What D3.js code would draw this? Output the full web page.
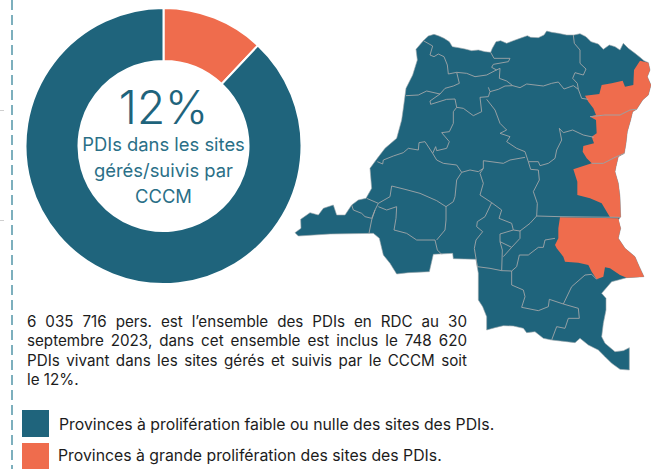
<!DOCTYPE html>
<html><head><meta charset="utf-8">
<script src="https://cdn.jsdelivr.net/npm/d3@7/dist/d3.min.js"></script>
<style>html,body{margin:0;padding:0;background:#fff}svg{display:block}text{font-family:Inter,"Noto Sans",sans-serif}</style>
</head><body><svg id="c" width="651" height="469"></svg>
<script>
const shareLabels=["Sites gérés/suivis par CCCM","Autres PDIs"];
const shareValues=[12,88];
const centerBig="12%";
const centerLines=["PDIs dans les sites","gérés/suivis par","CCCM"];
const bodyLines=["6 035 716 pers. est l’ensemble des PDIs en RDC au 30","septembre 2023, dans cet ensemble est inclus le 748 620","PDIs vivant dans les sites gérés et suivis par le CCCM soit","le 12%."];
const legendLabels=["Provinces à prolifération faible ou nulle des sites des PDIs.","Provinces à grande prolifération des sites des PDIs."];
// Map geometry, in map grid units
const countryOutline=[[400,62],[415,48],[432,43],[447,48],[462,55],[478,65],[487,80],[505,83],[525,87],[545,92],[565,90],[585,95],[602,97],[607,85],[618,65],[632,62],[650,70],[670,62],[690,55],[712,47],[722,52],[745,53],[762,45],[770,33],[785,37],[805,40],[830,45],[852,45],[870,41],[888,50],[903,65],[925,72],[940,88],[958,75],[975,80],[990,90],[1000,70],[1015,85],[1035,100],[1050,112],[1062,122],[1075,128],[1080,150],[1072,170],[1083,195],[1075,225],[1058,240],[1040,268],[1028,275],[1022,300],[1012,335],[1008,370],[1003,400],[985,410],[978,440],[975,455],[985,490],[990,530],[992,590],[985,600],[992,625],[985,655],[1005,685],[1035,710],[1048,740],[1062,770],[1010,773],[985,780],[965,785],[935,820],[948,835],[948,870],[940,910],[935,950],[945,970],[975,995],[1000,992],[1018,983],[1018,1050],[990,1048],[965,1030],[945,1010],[925,990],[895,975],[870,955],[855,968],[830,965],[785,960],[760,955],[735,935],[710,938],[700,925],[670,918],[640,917],[615,923],[590,930],[590,890],[578,860],[565,840],[565,760],[558,718],[490,716],[488,700],[430,703],[418,755],[355,758],[320,762],[300,730],[280,705],[268,655],[250,640],[120,642],[25,648],[15,638],[33,625],[32,598],[60,578],[85,585],[100,565],[130,555],[140,585],[165,585],[185,555],[205,540],[228,535],[245,505],[240,445],[262,415],[285,385],[320,355],[335,300],[340,265],[348,205],[368,165],[382,120],[378,88]];
const highProvinces=[
[[1050,122],[1075,128],[1080,150],[1072,170],[1083,195],[1075,225],[1058,240],[1040,268],[1020,270],[990,285],[945,285],[900,290],[918,285],[910,265],[895,245],[885,227],[928,222],[935,195],[965,190],[998,182],[1005,200],[1030,195],[1032,150]],
[[900,290],[945,285],[990,285],[1020,270],[1040,268],[1028,275],[1022,300],[1012,335],[1008,370],[1003,400],[975,412],[940,430],[905,430],[890,415],[878,395],[880,378],[912,370],[905,350],[920,340],[918,300]],
[[905,430],[940,430],[975,412],[1003,400],[985,410],[978,440],[975,455],[985,490],[990,530],[992,592],[960,592],[935,550],[900,535],[862,525],[862,485],[850,448]],
[[810,592],[985,595],[992,625],[985,655],[1005,685],[1035,710],[1048,740],[1062,770],[1010,773],[990,765],[960,745],[945,742],[940,770],[920,778],[905,755],[895,735],[865,728],[825,725],[820,710],[800,685],[795,675],[805,655],[805,625]]
];
const provinceBorders=[
[[400,62],[428,78],[420,105],[432,110],[445,102],[462,110],[472,135],[475,162],[500,157],[530,160],[555,170],[590,165],[615,152],[630,145],[628,175],[650,183],[668,197]],
[[595,202],[600,215],[625,208],[645,198],[668,197],[690,203],[710,192],[735,195],[760,198],[785,190],[805,186],[822,207],[850,197],[865,208],[875,235],[895,238]],
[[602,97],[612,115],[660,115],[655,125],[610,133],[605,142],[620,150]],
[[850,45],[853,70],[870,90],[870,130],[888,147],[880,165],[855,158],[848,175],[862,190],[865,208]],
[[500,157],[508,190],[490,198],[465,205],[450,222],[420,243],[422,253],[470,238],[495,237],[500,262],[520,265],[550,287],[575,275],[570,232],[595,230],[600,215]],
[[348,227],[385,225],[410,213],[450,222]],
[[500,262],[490,275],[490,310],[478,335],[455,338],[478,365],[470,385],[440,392],[437,380],[428,400],[405,365],[387,368],[385,390],[355,385],[340,398],[310,408],[280,420],[278,432],[262,425]],
[[590,238],[615,270],[630,310],[650,330],[630,340],[660,350],[650,365],[680,385],[705,395],[715,425],[722,448],[745,450],[748,480],[730,515],[742,550],[740,588],[810,590],[990,592]],
[[428,400],[440,420],[460,430],[500,435],[515,457],[540,450],[565,455],[580,445],[580,422],[640,430],[660,420],[705,412]],
[[715,425],[745,425],[750,437],[775,430],[795,415],[800,390],[815,360],[808,325],[820,338],[848,330],[880,345],[912,352]],
[[515,457],[500,480],[495,530],[490,545],[468,560],[440,542],[390,520],[345,508],[305,498],[300,530],[265,550],[230,535]],
[[265,550],[255,570],[245,600],[237,640]],
[[185,555],[190,570],[215,580],[225,590],[245,595],[255,570]],
[[265,560],[290,570],[320,560],[318,595],[312,630],[350,640],[380,660],[435,660],[442,690],[455,703]],
[[468,560],[468,600],[465,630],[440,660]],
[[580,445],[570,460],[580,490],[570,525],[605,548],[635,570],[627,595],[665,610],[670,630],[630,642],[630,665],[665,682],[690,655],[690,633],[720,610],[740,588]],
[[670,630],[690,633]],
[[605,548],[585,590],[562,605],[560,620],[578,635],[558,660],[553,685],[562,740],[600,745],[635,752],[665,753],[680,740],[688,705],[715,705],[745,682],[760,682],[765,660],[795,655]],
[[630,665],[637,690],[635,752]],
[[665,682],[640,710]],
[[665,753],[665,795],[700,810],[705,830],[695,862],[745,872],[775,860],[778,838],[820,852],[865,865],[868,895],[835,895],[825,925],[800,920],[785,960]],
[[820,852],[845,800],[885,765],[905,763],[920,778]],
[[900,290],[945,285],[990,285],[1020,270],[1040,268]],
[[905,430],[940,430],[975,412],[1003,400]]
];
const blue="#1f647c",orange="#ef6c4d",textBlue="#2a6f87",ink="#1c1c1c";

const svg=d3.select("#c");
// page decorations
svg.append("line").attr("x1",12).attr("x2",12).attr("y1",0).attr("y2",469)
  .attr("stroke","#5d9cad").attr("stroke-width",1.6).attr("stroke-dasharray","10 5");
svg.selectAll("line.t").data([110.5,220.5]).join("line").attr("class","t")
  .attr("x1",0).attr("x2",4).attr("y1",d=>d).attr("y2",d=>d).attr("stroke","#cfcfcf");

// donut
const cx=163.5,cy=146,R=138,r=85;
const pie=d3.pie().sort(null).value(d=>d);
const arc=d3.arc().innerRadius(r).outerRadius(R);
const g=svg.append("g").attr("transform",`translate(${cx},${cy})`);
const colors=d3.scaleOrdinal().domain(shareLabels).range([orange,blue]);
g.selectAll("path").data(pie(shareValues)).join("path")
  .attr("d",arc).attr("fill",(d,i)=>colors(shareLabels[i]))
  .attr("stroke","#fff").attr("stroke-width",2);
g.append("text").attr("text-anchor","middle").attr("x",0).attr("y",-22)
  .attr("font-size",46).attr("font-weight",300).attr("fill",blue).text(centerBig);
g.selectAll("text.l").data(centerLines).join("text").attr("class","l")
  .attr("text-anchor","middle").attr("x",0).attr("y",(d,i)=>5+i*26)
  .attr("font-size",18.4).attr("font-weight",400).attr("fill",textBlue).text(d=>d);

// map
const mx=d3.scaleLinear().domain([0,1083]).range([290,651]);
const my=d3.scaleLinear().domain([0,1350]).range([20,470]);
const closed=d3.line().x(d=>mx(d[0])).y(d=>my(d[1])).curve(d3.curveLinearClosed);
const open=d3.line().x(d=>mx(d[0])).y(d=>my(d[1]));
const m=svg.append("g");
m.append("path").attr("d",closed(countryOutline)).attr("fill",blue).attr("stroke","#9aa6ab").attr("stroke-width",.6);
m.selectAll("path.h").data(highProvinces).join("path").attr("class","h")
  .attr("d",closed).attr("fill",orange).attr("stroke","none");
m.selectAll("path.b").data(provinceBorders).join("path").attr("class","b")
  .attr("d",open).attr("fill","none").attr("stroke","#a2a6a8").attr("stroke-width",.9).attr("stroke-linejoin","round");

// paragraph, justified
const bodyY=[327,346,365.5,384.5];
const left=27,right=467;
svg.selectAll("text.p").data(bodyLines).join("text").attr("class","p")
  .attr("x",left).attr("y",(d,i)=>bodyY[i]).attr("font-size",15.2).attr("fill",ink).text(d=>d)
  .each(function(d,i){
    if(i===bodyLines.length-1)return;
    const w=this.getComputedTextLength(),n=d.split(" ").length-1;
    d3.select(this).attr("word-spacing",(right-left-w)/n);
  });

// legend
const legY=[410,443];
svg.selectAll("rect.k").data(legendLabels).join("rect").attr("class","k")
  .attr("x",22).attr("width",27).attr("y",(d,i)=>legY[i]).attr("height",27)
  .attr("fill",(d,i)=>i?orange:blue);
svg.selectAll("text.k").data(legendLabels).join("text").attr("class","k")
  .attr("x",(d,i)=>i?58:59).attr("y",(d,i)=>i?461:430).attr("font-size",15.8).attr("fill",ink).text(d=>d);
</script></body></html>
